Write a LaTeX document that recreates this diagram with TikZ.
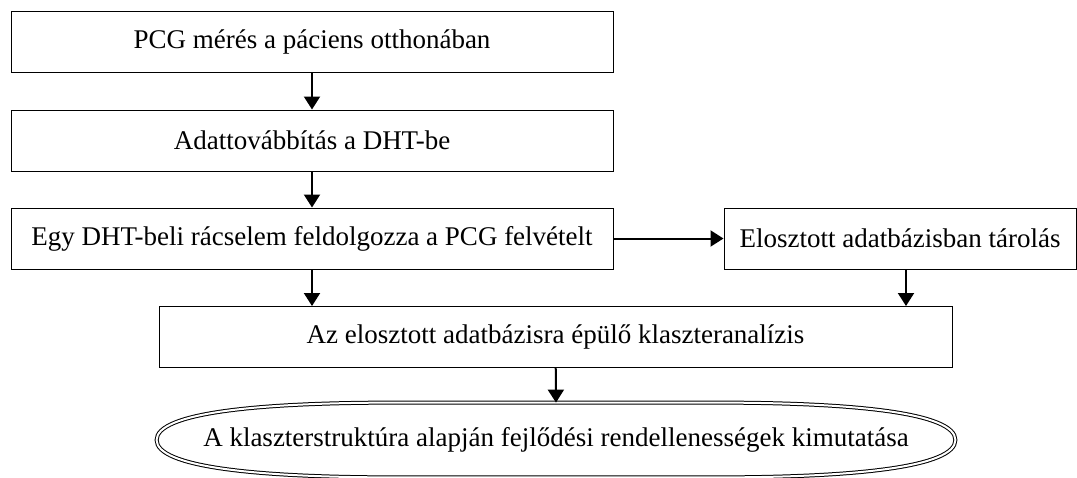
\documentclass[tikz,border=0pt]{standalone}
\usepackage{fontspec}
\setmainfont{Liberation Serif}
\usetikzlibrary{arrows.meta}

\begin{document}
\begin{tikzpicture}[x=0.5pt,y=-0.5pt]
  \tikzstyle{lepes}=[draw,line width=0.5pt,minimum height=30.5pt,inner sep=0pt,font=\fontsize{13.5}{16}\selectfont]
  \tikzstyle{nyil}=[line width=1pt,-{Triangle[length=6.5pt,width=8pt]}]
  \useasboundingbox (0,0) rectangle (1077,477);
  \node[lepes,minimum width=301pt] (meres) at (312,41.5) {PCG mérés a páciens otthonában};
  \node[lepes,minimum width=301pt] (tovabbitas) at (312,140.5) {Adattovábbítás a DHT-be};
  \node[lepes,minimum width=301pt] (feldolgozas) at (312,238.5) {Egy DHT-beli rácselem feldolgozza a PCG felvételt};
  \node[lepes,minimum width=176pt] (tarolas) at (900,238.5) {Elosztott adatbázisban tárolás};
  \node[lepes,minimum width=396.5pt] (klaszter) at (555.5,337) {Az elosztott adatbázisra épülő klaszteranalízis};
  \node[inner sep=0pt,minimum width=399pt,minimum height=37pt,font=\fontsize{13.5}{16}\selectfont] (eredmeny) at (556,440) {A klaszterstruktúra alapján fejlődési rendellenességek kimutatása};
  \draw[double,double distance=1pt,line width=0.5pt] (eredmeny.west)
      .. controls +(0,-27) and +(-140,0) .. ([xshift=-80pt]eredmeny.north)
      -- ([xshift=80pt]eredmeny.north)
      .. controls +(140,0) and +(0,-27) .. (eredmeny.east)
      .. controls +(0,27) and +(140,0) .. ([xshift=80pt]eredmeny.south)
      -- ([xshift=-80pt]eredmeny.south)
      .. controls +(-140,0) and +(0,27) .. (eredmeny.west) -- cycle;
  \draw[nyil] (meres) -- (tovabbitas);
  \draw[nyil] (tovabbitas) -- (feldolgozas);
  \draw[nyil] (feldolgozas) -- (tarolas);
  \draw[nyil] (feldolgozas.south) -- (feldolgozas.south |- klaszter.north);
  \draw[nyil] ([xshift=3pt]tarolas.south) -- ([xshift=3pt]tarolas.south |- klaszter.north);
  \draw[nyil] (klaszter) -- (eredmeny.north);
\end{tikzpicture}
\end{document}
